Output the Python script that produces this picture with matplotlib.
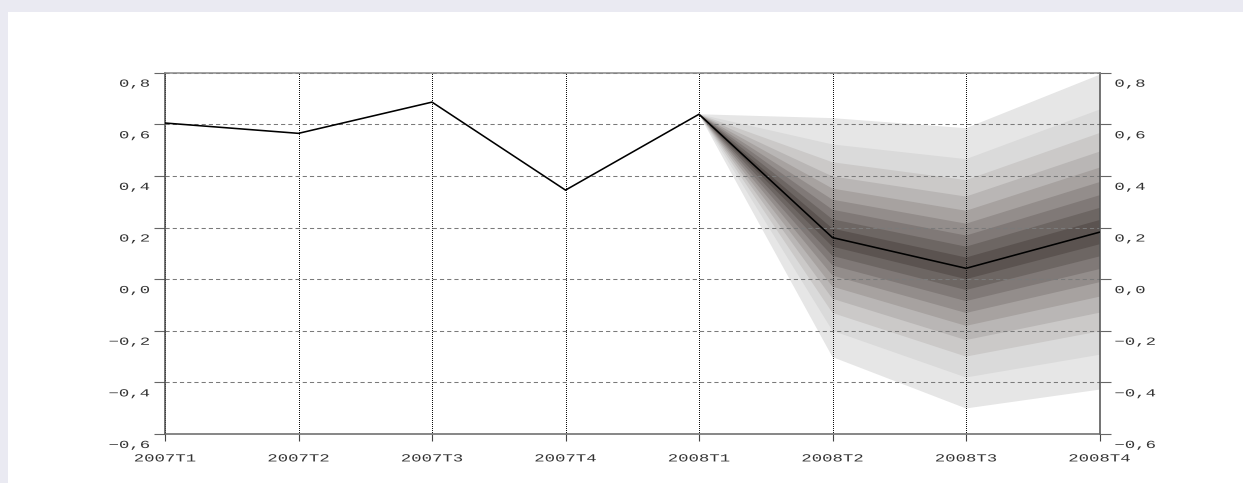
import matplotlib
matplotlib.use("Agg")
import matplotlib.pyplot as plt
from matplotlib.patches import Rectangle
from matplotlib.patheffects import AbstractPathEffect
from matplotlib.transforms import Affine2D, ScaledTranslation

# ---- data -----------------------------------------------------------------
quarters = ["2007T1", "2007T2", "2007T3", "2007T4",
            "2008T1", "2008T2", "2008T3", "2008T4"]
central = [0.605, 0.565, 0.686, 0.345, 0.639, 0.161, 0.042, 0.182]
fan_start = 4  # the projection fan opens at 2008T1

# band edges at 2008T2, 2008T3, 2008T4 — innermost (10 %) to outermost (90 %)
fan_upper = [
    [0.196, 0.084, 0.229],
    [0.232, 0.126, 0.276],
    [0.269, 0.169, 0.325],
    [0.308, 0.215, 0.376],
    [0.351, 0.265, 0.432],
    [0.398, 0.320, 0.494],
    [0.453, 0.384, 0.566],
    [0.522, 0.465, 0.657],
    [0.624, 0.585, 0.792],
]
fan_lower = [
    [0.126, 0.000, 0.135],
    [0.090, -0.042, 0.088],
    [0.053, -0.085, 0.039],
    [0.014, -0.131, -0.012],
    [-0.029, -0.181, -0.068],
    [-0.076, -0.236, -0.130],
    [-0.131, -0.300, -0.202],
    [-0.200, -0.381, -0.293],
    [-0.302, -0.501, -0.428],
]
band_colors = ["#5b5350", "#6d6663", "#807977", "#938d8b", "#a7a2a0",
               "#b9b6b5", "#cbc9c8", "#dadada", "#e6e6e6"]

y_ticks = [-0.6, -0.4, -0.2, 0.0, 0.2, 0.4, 0.6, 0.8]
y_tick_labels = ["−0,6", "−0,4", "−0,2", "0,0", "0,2", "0,4", "0,6", "0,8"]


# ---- wide lettering: stretch glyph outlines horizontally -------------------
class Stretch(AbstractPathEffect):
    def __init__(self, sx, anchor="center"):
        super().__init__()
        self.sx = sx
        self.anchor = anchor

    def draw_path(self, renderer, gc, tpath, affine, rgbFace=None):
        ext = tpath.get_extents()
        if self.anchor == "right":
            cx = ext.x1
        elif self.anchor == "left":
            cx = ext.x0
        else:
            cx = 0.5 * (ext.x0 + ext.x1)
        pre = Affine2D().translate(-cx, 0).scale(self.sx, 1).translate(cx, 0)
        renderer.draw_path(gc, tpath, pre + affine, rgbFace)


plt.rcParams["font.family"] = ["Liberation Mono", "DejaVu Sans Mono"]
plt.rcParams["lines.scale_dashes"] = False

W, H, DPI = 1243, 483, 100
fig = plt.figure(figsize=(W / DPI, H / DPI), dpi=DPI, facecolor="#eaeaf2")
fig.patches.append(Rectangle((8 / W, 0), 1 - 8 / W, 1 - 12 / H,
                             transform=fig.transFigure, facecolor="white",
                             edgecolor="none", zorder=-1))

ax = fig.add_axes([165 / W, (H - 434) / H, 934.5 / W, (434 - 72.7) / H])
ax.set_facecolor("none")
xs = list(range(len(quarters)))
ax.set_xlim(xs[0], xs[-1])
ax.set_ylim(y_ticks[0], y_ticks[-1])

# fan: outer (light) bands first, darker inner bands on top
fx = xs[fan_start:]
for k in reversed(range(len(band_colors))):
    up = [central[fan_start]] + fan_upper[k]
    lo = [central[fan_start]] + fan_lower[k]
    ax.fill_between(fx, lo, up, facecolor=band_colors[k], edgecolor="none",
                    lw=0, zorder=1)

ax.plot(xs, central, color="black", lw=1.15, zorder=3, solid_joinstyle="miter")

# grid above the fan, below the line
ax.set_axisbelow("line")
ax.yaxis.grid(True, color="#7a7a7a", lw=0.75, dashes=(3.0, 2.2))
ax.xaxis.grid(True, color="#111111", lw=0.72,
              linestyle=(0.36, (0.72, 0.72)), snap=True)

for side, col in (("left", "#4d4d4d"), ("right", "#4d4d4d"),
                  ("bottom", "#666666"), ("top", "#888888")):
    ax.spines[side].set_color(col)
    ax.spines[side].set_linewidth(1.1)

ax.set_xticks(xs, quarters)
ax.set_yticks(y_ticks, y_tick_labels)
ax.tick_params(axis="y", direction="out", length=8, width=0.8,
               color="#666666", left=True, right=True,
               labelleft=True, labelright=True, pad=3,
               labelsize=7.8, labelcolor="#333333")
ax.tick_params(axis="x", direction="out", length=5, width=0.8,
               color="#444444", pad=9, labelsize=7.8, labelcolor="#333333")

down = ScaledTranslation(0, -10 / DPI, fig.dpi_scale_trans)
for t in ax.yaxis.get_major_ticks():
    t.label1.set_transform(t.label1.get_transform() + down)
    t.label2.set_transform(t.label2.get_transform() + down)
    t.label1.set_path_effects([Stretch(1.6, "right")])
    t.label2.set_path_effects([Stretch(1.6, "left")])
for t in ax.xaxis.get_major_ticks():
    t.label1.set_path_effects([Stretch(1.6, "center")])

fig.savefig("out.png", dpi=DPI, facecolor=fig.get_facecolor())
